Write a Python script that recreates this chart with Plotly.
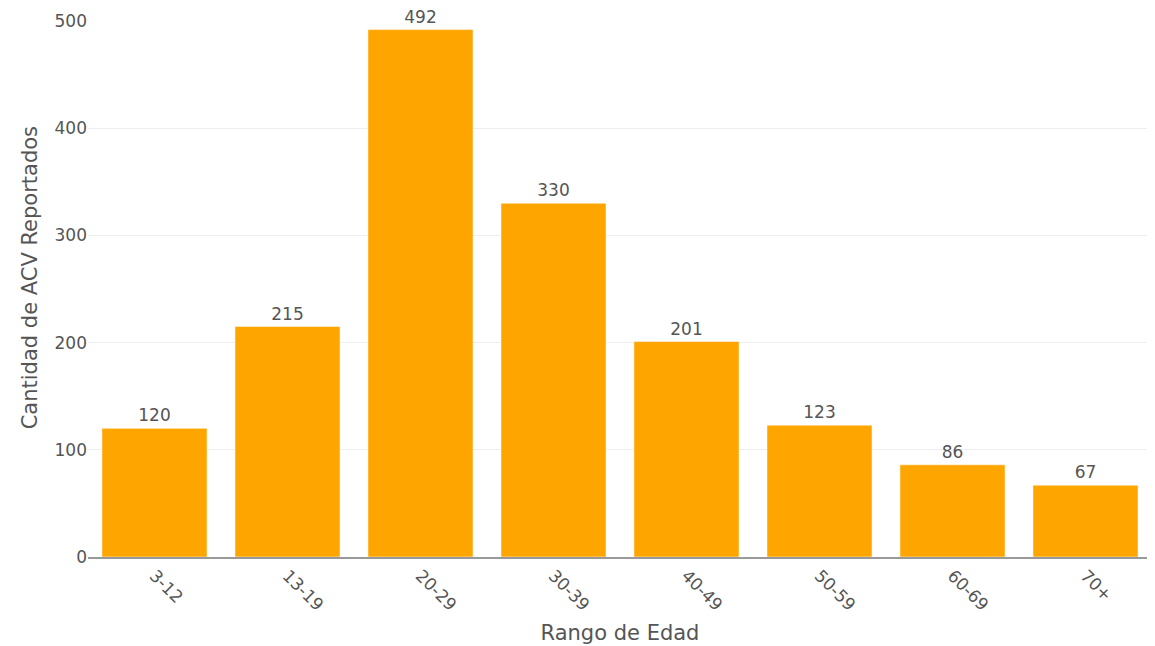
import plotly.graph_objects as go

categories = ["3-12", "13-19", "20-29", "30-39", "40-49", "50-59", "60-69", "70+"]
values = [120, 215, 492, 330, 201, 123, 86, 67]

fig = go.Figure(go.Bar(
    x=categories, y=values,
    text=values, textposition="outside",
    marker=dict(color="#FFA500", line=dict(color="white", width=0.5)),
    textfont=dict(size=17, color="#555"),
    cliponaxis=False,
))
fig.update_layout(
    width=1155, height=646,
    template="plotly_white",
    font=dict(family="DejaVu Sans, Verdana, sans-serif", size=17, color="#555"),
    margin=dict(l=80, r=11, t=13, b=97),
    bargap=0.21,
    xaxis=dict(title=dict(text="Rango de Edad", font=dict(size=21), standoff=12),
               tickangle=45, showline=True, linecolor="#999", linewidth=2,
               showgrid=False, automargin=False),
    yaxis=dict(range=[0, 500], gridcolor="#EEEEEE", zeroline=False,
               tickvals=[0, 100, 200, 300, 400, 500], automargin=False),
    annotations=[dict(text="Cantidad de ACV Reportados", textangle=-90,
                      xref="paper", yref="paper", x=-0.0545, y=0.52,
                      xanchor="center", yanchor="middle", showarrow=False,
                      font=dict(size=21, color="#555"))],
)
fig.write_html("out.html")
